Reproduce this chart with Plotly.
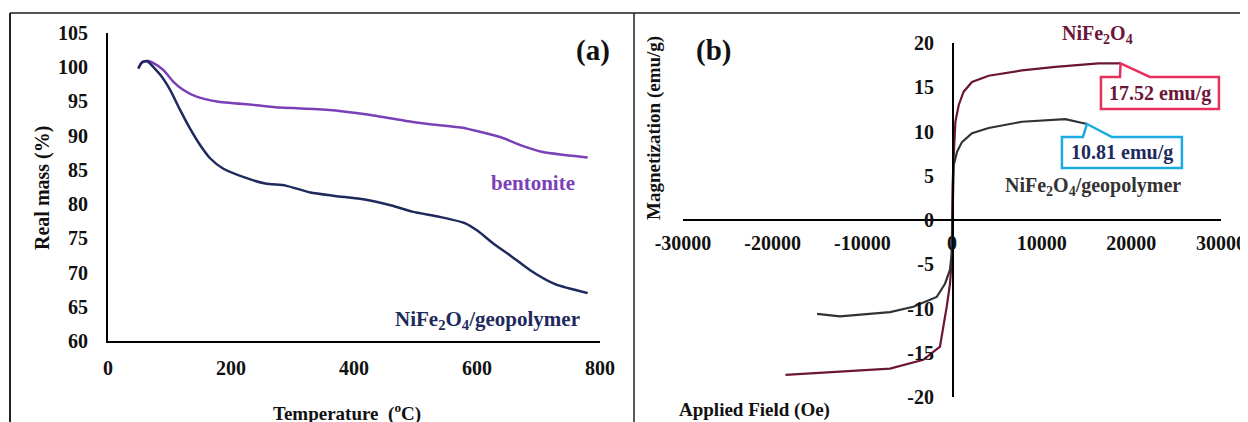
import plotly.graph_objects as go

W, H = 1240, 414     # page body adds an 8 px margin; 1240+8 ≈ window width
OFF = 8

# ---------------- data ----------------
# (a) TGA
temp_bentonite = [50, 55, 65, 74, 90, 106, 122, 144, 177, 236, 280, 355, 422, 488, 521, 574, 608, 641, 674, 707, 740, 780]
mass_bentonite = [99.9, 100.7, 100.9, 100.6, 99.6, 97.9, 96.7, 95.7, 95.0, 94.5, 94.1, 93.8, 93.1, 92.1, 91.7, 91.2, 90.5, 89.7, 88.5, 87.6, 87.2, 86.8]

temp_geo = [49, 55, 63, 85, 101, 117, 133, 150, 166, 187, 222, 256, 289, 329, 369, 422, 461, 495, 541, 581, 601, 627, 654, 687, 727, 780]
mass_geo = [99.8, 100.7, 100.9, 98.9, 96.7, 93.8, 91.1, 88.6, 86.7, 85.2, 83.9, 83.0, 82.7, 81.7, 81.2, 80.6, 79.8, 78.9, 78.1, 77.2, 76.1, 74.2, 72.5, 70.3, 68.3, 67.0]

# (b) VSM
field_nife = [-18570, -12490, -6910, -3200, -1340, -590, -220, -30, 60, 190, 380, 750, 1300, 2230, 4090, 7800, 11530, 16350, 18800]
mag_nife = [-17.5, -17.1, -16.8, -15.8, -14.3, -9.8, -7.2, -4.5, 3.6, 7.3, 11.1, 13.0, 14.5, 15.6, 16.3, 16.9, 17.3, 17.7, 17.7]

field_geo = [-15050, -12490, -6910, -4310, -1710, -780, -220, -30, 100, 190, 560, 1110, 2230, 4090, 7800, 12640, 15050]
mag_geo = [-10.6, -10.9, -10.4, -9.8, -8.7, -7.2, -5.6, -3.8, 2.0, 6.2, 7.7, 8.8, 9.8, 10.4, 11.1, 11.4, 10.85]

a_xticks = [0, 200, 400, 600, 800]
a_yticks = [60, 65, 70, 75, 80, 85, 90, 95, 100, 105]
b_xticks = [-30000, -20000, -10000, 0, 10000, 20000, 30000]
b_yticks = [-20, -15, -10, -5, 0, 5, 10, 15, 20]

ms_nife_label = "17.52 emu/g"
ms_geo_label = "10.81 emu/g"

# ---------------- helpers (window pixels -> paper) ----------------
def px(x):
    return (x - OFF) / W

def py(y):
    return 1 - (y - OFF) / H

FONT = "Liberation Serif"
C_BENT = "#7B3FB8"
C_NAVY = "#1E2A5C"
C_MAROON = "#6B1538"
C_GRAY = "#2F3337"

fig = go.Figure()

fig.add_trace(go.Scatter(x=temp_bentonite, y=mass_bentonite, mode="lines",
                         line=dict(color=C_BENT, width=2.5, shape="spline", smoothing=0.6),
                         xaxis="x", yaxis="y", showlegend=False))
fig.add_trace(go.Scatter(x=temp_geo, y=mass_geo, mode="lines",
                         line=dict(color=C_NAVY, width=2.5, shape="spline", smoothing=0.6),
                         xaxis="x", yaxis="y", showlegend=False))
fig.add_trace(go.Scatter(x=field_nife, y=mag_nife, mode="lines",
                         line=dict(color=C_MAROON, width=2.2),
                         xaxis="x2", yaxis="y2", showlegend=False))
fig.add_trace(go.Scatter(x=field_geo, y=mag_geo, mode="lines",
                         line=dict(color=C_GRAY, width=2.2),
                         xaxis="x2", yaxis="y2", showlegend=False))

tickfont = dict(family=FONT, size=20, color="#111111", weight="bold")

common = dict(showgrid=False, zeroline=False, showline=True, linecolor="black",
              linewidth=2, ticks="", tickfont=tickfont, automargin=False)

fig.update_layout(
    template="none",
    width=W, height=H, autosize=False,
    font=dict(family=FONT, size=20, color="#111111"),
    margin=dict(l=0, r=0, t=0, b=0, pad=0),
    paper_bgcolor="white", plot_bgcolor="white",
    xaxis=dict(domain=[px(108), px(600)], range=[0, 800], tickvals=a_xticks,
               ticktext=[str(v) for v in a_xticks], ticklabelstandoff=8, anchor="y", **common),
    yaxis=dict(domain=[py(341), py(33)], range=[60, 105], tickvals=a_yticks,
               ticktext=[str(v) for v in a_yticks], ticklabelstandoff=14, anchor="x", **common),
    xaxis2=dict(domain=[px(683), px(1221)], range=[-30000, 30000], tickvals=b_xticks,
                ticktext=[str(v) for v in b_xticks], ticklabelstandoff=5,
                anchor="free", position=py(220), **common),
    yaxis2=dict(domain=[py(397), py(43)], range=[-20, 20], tickvals=b_yticks,
                ticktext=[str(v) for v in b_yticks], ticklabelstandoff=14,
                anchor="free", position=px(953), **common),
)

def ann(text, x, y, size=20, color="#111111", angle=0):
    fig.add_annotation(text=text, x=px(x), y=py(y), xref="paper", yref="paper",
                       showarrow=False, textangle=angle, xanchor="center", yanchor="middle",
                       font=dict(family=FONT, size=size, color=color, weight="bold"))

ann("(a)", 593, 50, size=29)
ann("bentonite", 533, 183, size=21, color=C_BENT)
ann("NiFe<sub>2</sub>O<sub>4</sub>/geopolymer", 487, 320, size=21, color=C_NAVY)
ann("Temperature  (<sup>o</sup>C)", 347, 412, size=19)
ann("Real mass (%)", 43, 188, size=20, angle=-90)

ann("(b)", 713, 50, size=29)
ann("NiFe<sub>2</sub>O<sub>4</sub>", 1097, 35, size=20, color=C_MAROON)
ann("NiFe<sub>2</sub>O<sub>4</sub>/geopolymer", 1093, 187, size=20, color="#333333")
ann("Magnetization (emu/g)", 654, 128, size=19, angle=-90)
ann("Applied Field (Oe)", 754, 410, size=19)

# ---------------- callouts ----------------
def callout(tip_x, tip_y, box, wedge, text, border, tcolor):
    # box = (left, top, right, bottom) in data units; wedge = (x_left, x_right) on the box top
    l, t, r, b = box
    path = (f"M {l},{b} L {l},{t} L {wedge[0]},{t} L {tip_x},{tip_y} "
            f"L {wedge[1]},{t} L {r},{t} L {r},{b} Z")
    fig.add_shape(type="path", path=path, xref="x2", yref="y2",
                  line=dict(color=border, width=2.5), fillcolor="white", layer="above")
    fig.add_annotation(text=text, x=(l + r) / 2, y=(t + b) / 2, xref="x2", yref="y2",
                       showarrow=False, xanchor="center", yanchor="middle",
                       font=dict(family=FONT, size=20, color=tcolor, weight="bold"))

callout(field_nife[-1], mag_nife[-1], (16610, 16.16, 29770, 12.54), (18730, 22070),
        ms_nife_label, "#E8305C", C_MAROON)
callout(field_geo[-1], mag_geo[-1], (12260, 9.38, 25640, 5.88), (14600, 17840),
        ms_geo_label, "#1BAAE2", C_NAVY)

# ---------------- frame lines ----------------
fig.add_shape(type="line", xref="paper", yref="paper", x0=px(10), x1=1, y0=py(13), y1=py(13),
              line=dict(color="#555555", width=2))
fig.add_shape(type="line", xref="paper", yref="paper", x0=px(10), x1=px(10), y0=py(13), y1=0,
              line=dict(color="#222222", width=2))
fig.add_shape(type="line", xref="paper", yref="paper", x0=px(634), x1=px(634), y0=py(13), y1=0,
              line=dict(color="#222222", width=1.5))

fig.write_html("out.html")
